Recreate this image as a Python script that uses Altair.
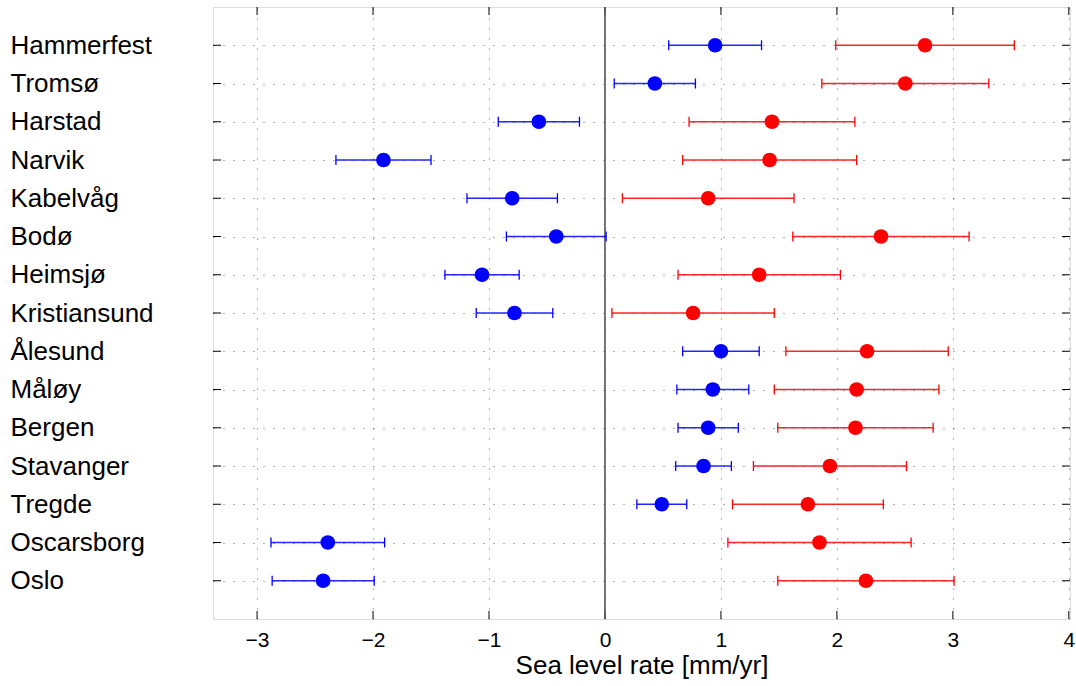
import altair as alt
import pandas as pd

# Tide-gauge stations, north to south
stations = ["Hammerfest", "Tromsø", "Harstad", "Narvik", "Kabelvåg", "Bodø",
            "Heimsjø", "Kristiansund", "Ålesund", "Måløy", "Bergen",
            "Stavanger", "Tregde", "Oscarsborg", "Oslo"]

# Observed sea level rate and its uncertainty [mm/yr]
blue_rate = [0.95, 0.43, -0.57, -1.91, -0.80, -0.42, -1.06, -0.78,
             1.00, 0.93, 0.89, 0.85, 0.49, -2.39, -2.43]
blue_err = [0.40, 0.35, 0.35, 0.41, 0.39, 0.43, 0.32, 0.33,
            0.33, 0.31, 0.26, 0.24, 0.215, 0.49, 0.44]

# Rate corrected for land uplift and its uncertainty [mm/yr]
red_rate = [2.76, 2.59, 1.44, 1.42, 0.89, 2.38, 1.33, 0.76,
            2.26, 2.17, 2.16, 1.94, 1.75, 1.85, 2.25]
red_err = [0.77, 0.72, 0.715, 0.75, 0.74, 0.76, 0.70, 0.70,
           0.70, 0.71, 0.67, 0.66, 0.65, 0.79, 0.76]

x_ticks = [-3, -2, -1, 0, 1, 2, 3, 4]
x_domain = [-3.38, 4.01]

W, H = 857, 612
FONT = "Liberation Sans"


def series_table(rate, err):
    return pd.DataFrame({
        "station": stations,
        "rate": rate,
        "lo": [r - e for r, e in zip(rate, err)],
        "hi": [r + e for r, e in zip(rate, err)],
    })


blue = series_table(blue_rate, blue_err)
red = series_table(red_rate, red_err)
tick_df = pd.DataFrame({"v": x_ticks})
zero_df = pd.DataFrame({"v": [0]})
st_df = pd.DataFrame({"station": stations})

xscale = alt.Scale(domain=x_domain, nice=False, zero=False)
yscale = alt.Scale(type="point", domain=stations, padding=1)

grid_kw = dict(grid=True, gridDash=[1, 9], gridColor="#000000",
               gridOpacity=0.6, gridWidth=1)

x_axis = alt.Axis(
    values=x_ticks, format="d", title="Sea level rate [mm/yr]",
    titleFont=FONT, titleFontSize=26, titleFontWeight="normal",
    titleColor="black", titleY=54, titleBaseline="alphabetic",
    labelFont=FONT, labelFontSize=21, labelColor="black",
    labelPadding=10, labelFlush=False, labelOverlap=False,
    ticks=False, tickSize=0, domain=False, **grid_kw)

y_axis = alt.Axis(
    title=None, labelFont=FONT, labelFontSize=26, labelColor="black",
    labelAlign="left", labelBaseline="middle", labelPadding=203,
    labelLimit=400, ticks=False, tickSize=0, domain=False, **grid_kw)


def X(field):
    return alt.X(field, type="quantitative", scale=xscale, axis=x_axis)


def Y():
    return alt.Y("station:N", scale=yscale, axis=y_axis, sort=stations)


# zero reference line
zero_line = alt.Chart(zero_df).mark_rule(color="#555555", strokeWidth=1.6).encode(
    x=X("v"))

# inward ticks on all four sides
top_ticks = alt.Chart(tick_df).mark_rule(color="black", strokeWidth=1).encode(
    x=X("v"), y=alt.value(0), y2=alt.value(8))
bottom_ticks = alt.Chart(tick_df).mark_rule(color="black", strokeWidth=1).encode(
    x=X("v"), y=alt.value(H - 8), y2=alt.value(H))
left_ticks = alt.Chart(st_df).mark_rule(color="black", strokeWidth=1).encode(
    y=Y(), x=alt.value(0), x2=alt.value(8))
right_ticks = alt.Chart(st_df).mark_rule(color="black", strokeWidth=1).encode(
    y=Y(), x=alt.value(W - 8), x2=alt.value(W))


def series(df, color):
    base = alt.Chart(df)
    bars = base.mark_rule(color=color, strokeWidth=1.5, opacity=0.85).encode(
        x=X("lo"), x2="hi", y=Y())
    cap_lo = base.mark_tick(color=color, thickness=1.3, size=10, opacity=1).encode(
        x=X("lo"), y=Y())
    cap_hi = base.mark_tick(color=color, thickness=1.3, size=10, opacity=1).encode(
        x=X("hi"), y=Y())
    dots = base.mark_circle(color=color, size=215, opacity=1).encode(
        x=X("rate"), y=Y())
    return [bars, cap_lo, cap_hi, dots]


chart = alt.layer(
    left_ticks, right_ticks, top_ticks, bottom_ticks, zero_line,
    *series(blue, "#0000ff"), *series(red, "#ff0000"),
).properties(
    width=W, height=H,
    autosize=alt.AutoSizeParams(type="none"),
    padding={"left": 213, "top": 7, "right": 6, "bottom": 67},
).configure_view(
    stroke="black", strokeWidth=1.2, fill="white"
).configure(background="white")

chart.save("out.html", embed_options={"renderer": "svg", "actions": False})
